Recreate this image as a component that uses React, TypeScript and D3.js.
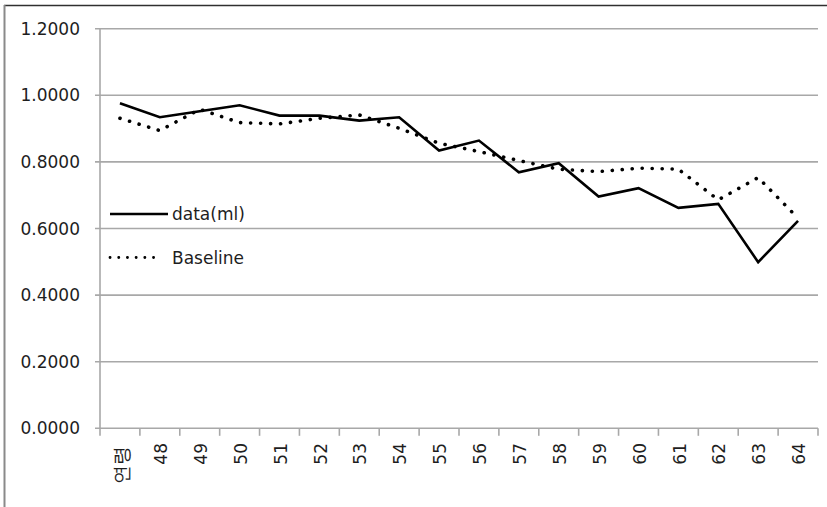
import React from "react";
import * as d3 from "d3";

const categories = ["연령", "48", "49", "50", "51", "52", "53", "54", "55", "56", "57", "58", "59", "60", "61", "62", "63", "64"];
const dataMl = [0.976, 0.934, 0.952, 0.970, 0.939, 0.939, 0.924, 0.934, 0.834, 0.864, 0.769, 0.796, 0.696, 0.721, 0.662, 0.674, 0.499, 0.623];
const baseline = [0.931, 0.894, 0.958, 0.918, 0.914, 0.931, 0.941, 0.901, 0.856, 0.831, 0.804, 0.778, 0.771, 0.781, 0.778, 0.686, 0.753, 0.631];
const yTicks = [0, 0.2, 0.4, 0.6, 0.8, 1.0, 1.2];
const seriesNames = ["data(ml)", "Baseline"];

const W = 827;
const H = 507;
const plotL = 100;
const plotR = 818;
const plotT = 28.7;
const plotB = 428.3;
const FONT = "'DejaVu Sans', Verdana, sans-serif";
const TEXT = "#1e1e1e";
const GRID = "#a8a8a8";

export default function App() {
  const x = d3.scaleBand<string>().domain(categories).range([plotL, plotR]).padding(0);
  const y = d3.scaleLinear().domain([0, 1.2]).range([plotB, plotT]);
  const cx = (c: string) => (x(c) ?? 0) + x.bandwidth() / 2;
  const line = d3
    .line<number>()
    .x((_, i) => cx(categories[i]))
    .y((d) => y(d));

  const boundaries = categories.map((c) => x(c) ?? 0).concat([plotR]);
  const isKorean = (c: string) => /[\uac00-\ud7a3]/.test(c);

  return (
    <svg
      width={W}
      height={H}
      style={{ position: "absolute", left: 0, top: 0, background: "#fff" }}
      fontFamily={FONT}
    >
      <rect x={0} y={0} width={W} height={H} fill="#fff" />
      {/* outer frame */}
      <line x1={4} y1={5.5} x2={W} y2={5.5} stroke="#303030" strokeWidth={1.5} />
      <line x1={4.5} y1={5} x2={4.5} y2={H} stroke="#8a8a8a" strokeWidth={2} />

      {/* gridlines */}
      {yTicks.map((t) => (
        <line key={"g" + t} x1={plotL - 5} x2={plotR} y1={y(t)} y2={y(t)} stroke={GRID} strokeWidth={1.6} />
      ))}
      {/* y axis */}
      <line x1={plotL} x2={plotL} y1={plotT} y2={plotB} stroke={GRID} strokeWidth={1.6} />
      {yTicks.map((t) => (
        <text
          key={"yl" + t}
          x={80}
          y={y(t)}
          dy="0.36em"
          textAnchor="end"
          fontSize={17}
          fill={TEXT}
        >
          {d3.format(".4f")(t)}
        </text>
      ))}
      {/* x ticks */}
      {boundaries.map((b, i) => (
        <line key={"xt" + i} x1={b} x2={b} y1={plotB} y2={plotB + 7.5} stroke={GRID} strokeWidth={1.6} />
      ))}
      {categories.map((c) => (
        <text
          key={"xl" + c}
          transform={`translate(${cx(c) + 1}, ${isKorean(c) ? 446 : 443}) rotate(-90)`}
          x={0}
          y={0}
          dy="0.36em"
          textAnchor="end"
          fontSize={isKorean(c) ? 18.5 : 17}
          fill={TEXT}
        >
          {c}
        </text>
      ))}

      {/* series */}
      <path d={line(baseline) ?? ""} fill="none" stroke="#000" strokeWidth={3.6} strokeDasharray="0.1 9.9" strokeLinecap="round" />
      <path d={line(dataMl) ?? ""} fill="none" stroke="#000" strokeWidth={2.6} strokeLinejoin="miter" />

      {/* legend */}
      <line x1={110} x2={168} y1={214} y2={214} stroke="#000" strokeWidth={2.6} />
      <text x={172} y={214} dy="0.36em" fontSize={17} fill={TEXT}>
        {seriesNames[0]}
      </text>
      <line x1={110} x2={162} y1={257.5} y2={257.5} stroke="#000" strokeWidth={2.8} strokeDasharray="0.1 8.6" strokeLinecap="round" />
      <text x={172} y={257.5} dy="0.36em" fontSize={17} fill={TEXT}>
        {seriesNames[1]}
      </text>
    </svg>
  );
}
